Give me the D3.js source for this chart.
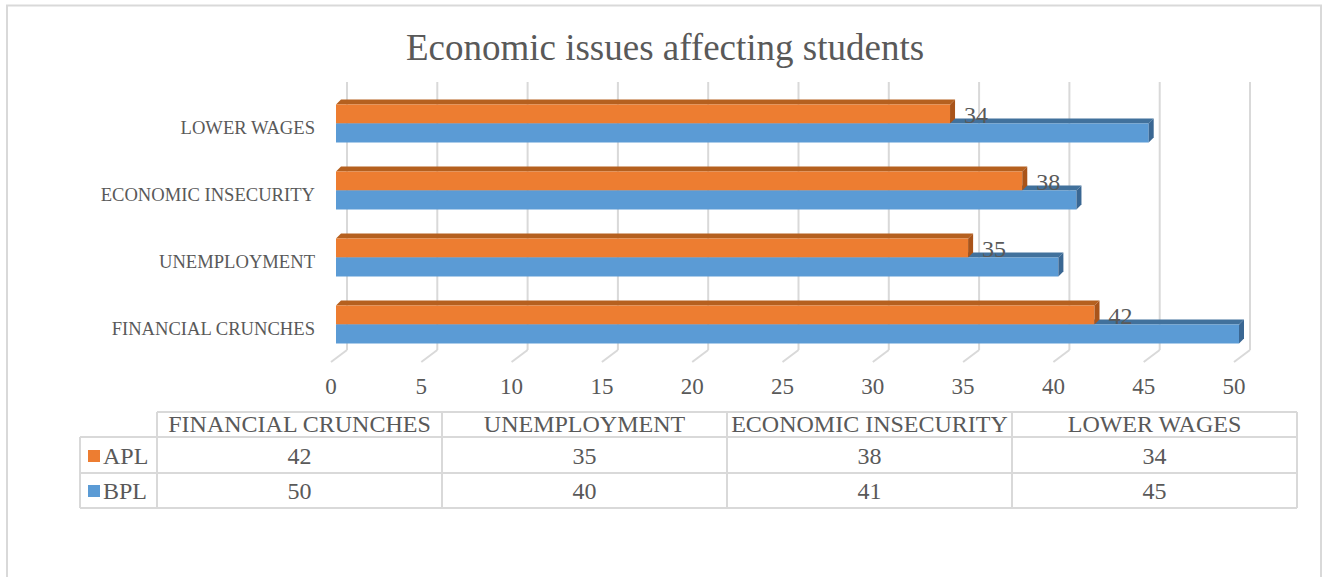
<!DOCTYPE html>
<html>
<head>
<meta charset="utf-8">
<script src="https://cdn.jsdelivr.net/npm/d3@7"></script>
<style>
  html, body { margin: 0; padding: 0; background: #fff; }
  svg { display: block; font-family: 'Liberation Serif', 'Times New Roman', serif; }
</style>
</head>
<body>
<div id="wrapper"></div>
<script>
// Data
const categories = ['FINANCIAL CRUNCHES', 'UNEMPLOYMENT', 'ECONOMIC INSECURITY', 'LOWER WAGES'];
const seriesNames = ['APL', 'BPL'];
const aplValues = [42, 35, 38, 34];
const bplValues = [50, 40, 41, 45];
const tickValues = [0, 5, 10, 15, 20, 25, 30, 35, 40, 45, 50];
const titleText = 'Economic issues affecting students';

const colors = {
  APL: { front: '#ED7D31', top: '#B5601F', side: '#A9541A' },
  BPL: { front: '#5B9BD5', top: '#41719C', side: '#3A6793' },
};
const textColor = '#595959';
const gridColor = '#d9d9d9';

const dimensions = {
  width: 1322,
  height: 577,
  gridTop: 82,
  gridBottom: 350,
  floorFront: 362,
  backDx: 11,
  floorDx: -5,
  depth: 5,
};

const rows = categories.map((c, i) => ({ category: c, APL: aplValues[i], BPL: bplValues[i] }));

// Scales
const xScale = d3.scaleLinear().domain([0, 50]).range([336, 1239]);
const yScale = d3
  .scaleBand()
  .domain(categories.slice().reverse())
  .range([90, 358])
  .paddingInner(0.433)
  .paddingOuter(0.2165);
const barH = yScale.bandwidth() / 2;

const svg = d3
  .select('#wrapper')
  .append('svg')
  .attr('width', dimensions.width)
  .attr('height', dimensions.height);

// Outer border
svg
  .append('rect')
  .attr('x', 7)
  .attr('y', 5.5)
  .attr('width', 1314)
  .attr('height', 620)
  .attr('fill', 'none')
  .attr('stroke', gridColor)
  .attr('stroke-width', 2);

// Title
svg
  .append('text')
  .attr('x', 665)
  .attr('y', 60)
  .attr('text-anchor', 'middle')
  .attr('fill', textColor)
  .style('font-size', '37px')
  .text(titleText);

// Gridlines: back wall + floor
const grid = svg.append('g').attr('id', 'grid');
grid
  .selectAll('line.back')
  .data(tickValues)
  .join('line')
  .attr('class', 'back')
  .attr('x1', (d) => xScale(d) + dimensions.backDx)
  .attr('x2', (d) => xScale(d) + dimensions.backDx)
  .attr('y1', dimensions.gridTop)
  .attr('y2', dimensions.gridBottom)
  .attr('stroke', gridColor)
  .attr('stroke-width', 2);
grid
  .selectAll('line.floor')
  .data(tickValues)
  .join('line')
  .attr('class', 'floor')
  .attr('x1', (d) => xScale(d) + dimensions.backDx)
  .attr('x2', (d) => xScale(d) + dimensions.floorDx)
  .attr('y1', dimensions.gridBottom)
  .attr('y2', dimensions.floorFront)
  .attr('stroke', gridColor)
  .attr('stroke-width', 2);

// Tick labels
svg
  .append('g')
  .attr('id', 'x-axis')
  .selectAll('text')
  .data(tickValues)
  .join('text')
  .attr('x', (d) => xScale(d) + dimensions.floorDx)
  .attr('y', 394)
  .attr('text-anchor', 'middle')
  .attr('fill', textColor)
  .style('font-size', '23px')
  .text((d) => d);

// Category labels
svg
  .append('g')
  .attr('id', 'y-axis')
  .selectAll('text')
  .data(categories)
  .join('text')
  .attr('x', 315)
  .attr('y', (d) => yScale(d) + barH + 10)
  .attr('text-anchor', 'end')
  .attr('fill', textColor)
  .style('font-size', '18.6px')
  .text((d) => d);

// 3D bar helpers
const dp = dimensions.depth;
function topFace(x0, x1, y) {
  return `M${x0},${y} L${x0 + dp},${y - dp} L${x1 + dp},${y - dp} L${x1},${y} Z`;
}
function sideFace(x1, y, h) {
  return `M${x1},${y} L${x1 + dp},${y - dp} L${x1 + dp},${y + h - dp} L${x1},${y + h} Z`;
}

const bars = svg.append('g').attr('id', 'bars');
rows.forEach((r) => {
  const yA = yScale(r.category);
  const yB = yA + barH;
  const x0 = xScale(0);
  const xA = xScale(r.APL);
  const xB = xScale(r.BPL);
  const g = bars.append('g');
  // BPL top (behind APL)
  g.append('path').attr('d', topFace(x0, xB, yB)).attr('fill', colors.BPL.top);
  // APL bar
  g.append('path').attr('d', topFace(x0, xA, yA)).attr('fill', colors.APL.top);
  g.append('rect')
    .attr('x', x0)
    .attr('y', yA)
    .attr('width', xA - x0)
    .attr('height', barH)
    .attr('fill', colors.APL.front);
  g.append('path').attr('d', sideFace(xA, yA, barH)).attr('fill', colors.APL.side);
  // BPL bar
  g.append('rect')
    .attr('x', x0)
    .attr('y', yB)
    .attr('width', xB - x0)
    .attr('height', barH)
    .attr('fill', colors.BPL.front);
  g.append('path').attr('d', sideFace(xB, yB, barH)).attr('fill', colors.BPL.side);
  // data label
  g.append('text')
    .attr('x', xA + 14)
    .attr('y', yB - 0.5)
    .attr('fill', textColor)
    .style('font-size', '24px')
    .text(r.APL);
});

// Data table
const colX = [80, 157, 442, 727, 1012, 1297];
const rowY = [412, 437, 473, 508];
const table = svg.append('g').attr('id', 'table');
const line = (x1, y1, x2, y2) =>
  table
    .append('line')
    .attr('x1', x1)
    .attr('y1', y1)
    .attr('x2', x2)
    .attr('y2', y2)
    .attr('stroke', gridColor)
    .attr('stroke-width', 2);

line(colX[1], rowY[0], colX[5], rowY[0]);
line(colX[0], rowY[1], colX[5], rowY[1]);
line(colX[0], rowY[2], colX[5], rowY[2]);
line(colX[0], rowY[3], colX[5], rowY[3]);
line(colX[0], rowY[1], colX[0], rowY[3]);
colX.slice(1).forEach((x) => line(x, rowY[0], x, rowY[3]));

// header cells
table
  .selectAll('text.head')
  .data(categories)
  .join('text')
  .attr('class', 'head')
  .attr('x', (d, i) => (colX[i + 1] + colX[i + 2]) / 2)
  .attr('y', 432)
  .attr('text-anchor', 'middle')
  .attr('fill', textColor)
  .style('font-size', '24px')
  .text((d) => d);

const seriesRows = [
  { name: seriesNames[0], values: aplValues, base: 464 },
  { name: seriesNames[1], values: bplValues, base: 499 },
];
seriesRows.forEach((s) => {
  table
    .append('rect')
    .attr('x', 88)
    .attr('y', s.base - 14)
    .attr('width', 12)
    .attr('height', 12)
    .attr('fill', colors[s.name].front);
  table
    .append('text')
    .attr('x', 103)
    .attr('y', s.base)
    .attr('fill', textColor)
    .style('font-size', '24px')
    .text(s.name);
  table
    .selectAll(null)
    .data(s.values)
    .join('text')
    .attr('x', (d, i) => (colX[i + 1] + colX[i + 2]) / 2)
    .attr('y', s.base)
    .attr('text-anchor', 'middle')
    .attr('fill', textColor)
    .style('font-size', '24px')
    .text((d) => d);
});
</script>
</body>
</html>
